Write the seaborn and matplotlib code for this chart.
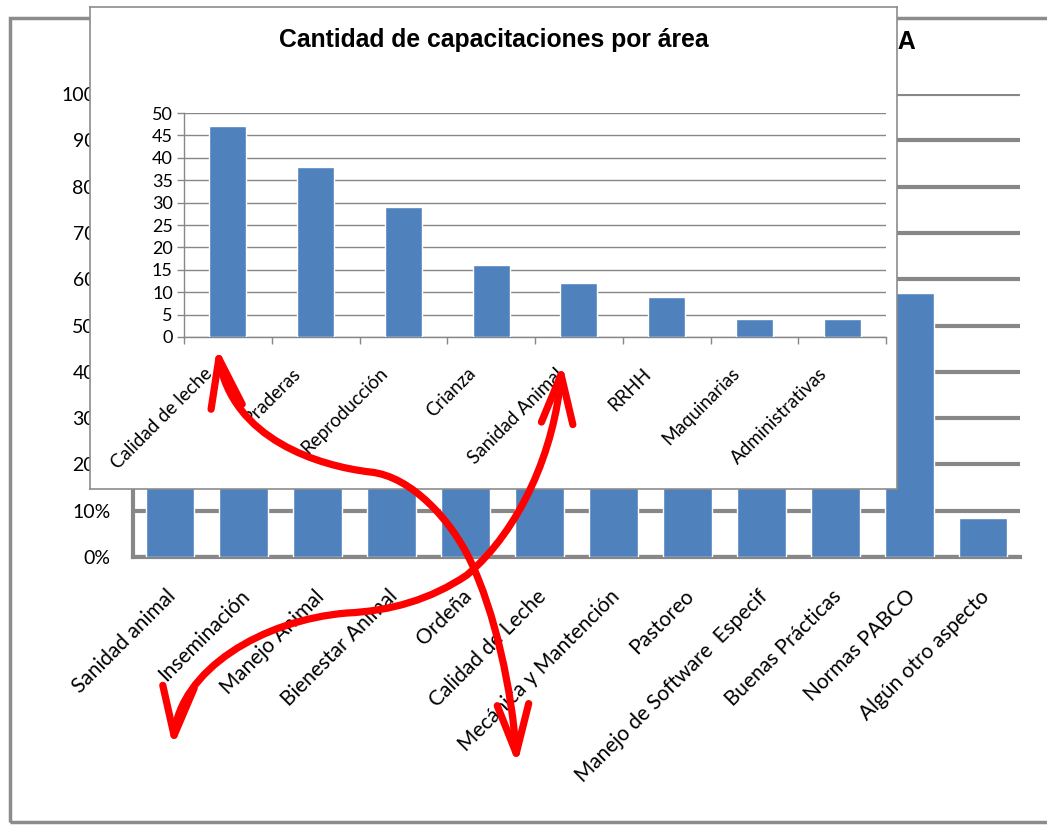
import seaborn as sns
import pandas as pd
import matplotlib.pyplot as plt
from matplotlib.patches import Rectangle, FancyArrowPatch
from matplotlib.path import Path
from matplotlib.ticker import FuncFormatter
from matplotlib.transforms import ScaledTranslation


sns.set_theme(style='white')
plt.rcParams['font.family'] = ['Lato', 'DejaVu Sans']
plt.rcParams['text.color'] = 'black'
plt.rcParams['xtick.color'] = 'black'
plt.rcParams['ytick.color'] = 'black'

bar_blue = '#4F81BD'
grid_gray = '#878787'

# background chart: share of answers per topic (bars 1-10 sit behind the inset)
bg_topics = ['Sanidad animal', 'Inseminación', 'Manejo Animal', 'Bienestar Animal', 'Ordeña',
             'Calidad de Leche', 'Mecánica y Mantención', 'Pastoreo', 'Manejo de Software  Especif',
             'Buenas Prácticas', 'Normas PABCO', 'Algún otro aspecto']
bg_pct = [80, 72, 65, 61, 68, 74, 52, 44, 39, 63, 57, 8.5]
bg_title = 'POR ÁREA'

# inset chart: number of trainings per area
areas = ['Calidad de leche', 'Praderas', 'Reproducción', 'Crianza', 'Sanidad Animal',
         'RRHH', 'Maquinarias', 'Administrativas']
n_caps = [47, 38, 29, 16, 12, 9, 4, 4]
inset_title = 'Cantidad de capacitaciones por área'

W, H = 1047, 826
fig = plt.figure(figsize=(W / 100, H / 100), dpi=100)
title_font = ['Liberation Sans', 'DejaVu Sans']


def box(x0, y0, x1, y1):
    # pixel box (top-left origin) -> figure fractions
    return [x0 / W, 1 - y1 / H, (x1 - x0) / W, (y1 - y0) / H]


def shift_labels(labels, dx, dy):
    for lab in labels:
        lab.set_transform(lab.get_transform() + ScaledTranslation(dx / 100, -dy / 100, fig.dpi_scale_trans))


# ---- background chart ----
ax = fig.add_axes(box(133, 94, 1020, 557), zorder=0)
bg = pd.DataFrame({'tema': bg_topics, 'pct': bg_pct})
sns.barplot(data=bg, x='tema', y='pct', color=bar_blue, saturation=1, width=0.66, ax=ax, zorder=3)
ax.set_ylim(0, 100)
ax.set_yticks(range(0, 101, 10))
ax.yaxis.set_major_formatter(FuncFormatter(lambda v, p: f'{v:.0f}%'))
ax.grid(axis='y', color=grid_gray, lw=3)
ax.set_axisbelow(True)
ax.set_xlabel('')
ax.set_ylabel('')
for s in ['top', 'right']:
    ax.spines[s].set_visible(False)
for s in ['left', 'bottom']:
    ax.spines[s].set_color(grid_gray)
    ax.spines[s].set_linewidth(3)
ax.tick_params(axis='y', length=0, pad=16, labelsize=14, labelcolor='black')
ax.tick_params(axis='x', length=0, pad=21, labelsize=15, labelcolor='black')
plt.setp(ax.get_xticklabels(), rotation=45, ha='right', rotation_mode='anchor')
shift_labels(ax.get_xticklabels(), -4, 0)
ax.text(916 / W, 1 - 42 / H, bg_title, transform=fig.transFigure, ha='right', va='center',
        fontsize=18, fontweight='bold', family=title_font, color='black')

# outer chart frame
fig.patches.append(Rectangle((10 / W, 1 - 822 / H), 1.2, (822 - 18) / H, transform=fig.transFigure,
                             fill=False, edgecolor='#8C8C8C', lw=2.5, zorder=1))

# ---- inset chart ----
frame = fig.add_axes(box(90, 7, 897, 489), zorder=2)
frame.set_facecolor('white')
frame.set_xticks([])
frame.set_yticks([])
for s in frame.spines.values():
    s.set_color('#8C8C8C')
    s.set_linewidth(1.2)
frame.text(0.5, 1 - 33 / 482, inset_title, transform=frame.transAxes, ha='center', va='center',
           fontsize=17.8, fontweight='bold', family=title_font, color='black')

ax2 = fig.add_axes(box(184, 113, 886, 337), zorder=3)
ins = pd.DataFrame({'area': areas, 'n': n_caps})
sns.barplot(data=ins, x='area', y='n', color=bar_blue, saturation=1, width=0.42, ax=ax2, zorder=3)
ax2.set_ylim(0, 50)
ax2.set_yticks(range(0, 51, 5))
ax2.set_xlim(-0.5, len(areas) - 0.5)
ax2.set_xticks([i + 0.5 for i in range(-1, len(areas))], minor=True)
ax2.grid(axis='y', color=grid_gray, lw=1)
ax2.set_axisbelow(True)
ax2.set_xlabel('')
ax2.set_ylabel('')
for s in ['top', 'right']:
    ax2.spines[s].set_visible(False)
for s in ['left', 'bottom']:
    ax2.spines[s].set_color(grid_gray)
    ax2.spines[s].set_linewidth(1)
ax2.tick_params(axis='y', length=5, width=1, color=grid_gray, pad=3, labelsize=13, left=True,
                labelcolor='black')
ax2.tick_params(axis='x', which='major', length=0, pad=20, labelsize=13.5, labelcolor='black')
ax2.tick_params(axis='x', which='minor', length=5, width=1, color=grid_gray, bottom=True)
plt.setp(ax2.get_xticklabels(), rotation=45, ha='right', rotation_mode='anchor')
shift_labels(ax2.get_xticklabels(), -24, 0)

# ---- red arrows drawn on top ----
ov = fig.add_axes([0, 0, 1, 1], zorder=10)
ov.set_xlim(0, W)
ov.set_ylim(H, 0)
ov.axis('off')
ov.patch.set_alpha(0)

C4 = Path.CURVE4
arrow_paths = [
    [(217, 347), (232, 440), (320, 466), (370, 472), (412, 476), (452, 522), (470, 560),
     (495, 612), (512, 690), (517, 765)],
    [(562, 363), (555, 450), (520, 530), (467, 575), (430, 600), (390, 611), (347, 613),
     (262, 620), (180, 670), (173, 747)],
]
for pts in arrow_paths:
    codes = [Path.MOVETO] + [C4] * 9
    arr = FancyArrowPatch(path=Path(pts, codes), arrowstyle='<->,head_length=1.3,head_width=0.42',
                          mutation_scale=27, color='#FF0000', lw=5.2, transform=ov.transData,
                          capstyle='round', joinstyle='round')
    ov.add_patch(arr)

fig.savefig('out.png', dpi=100)
